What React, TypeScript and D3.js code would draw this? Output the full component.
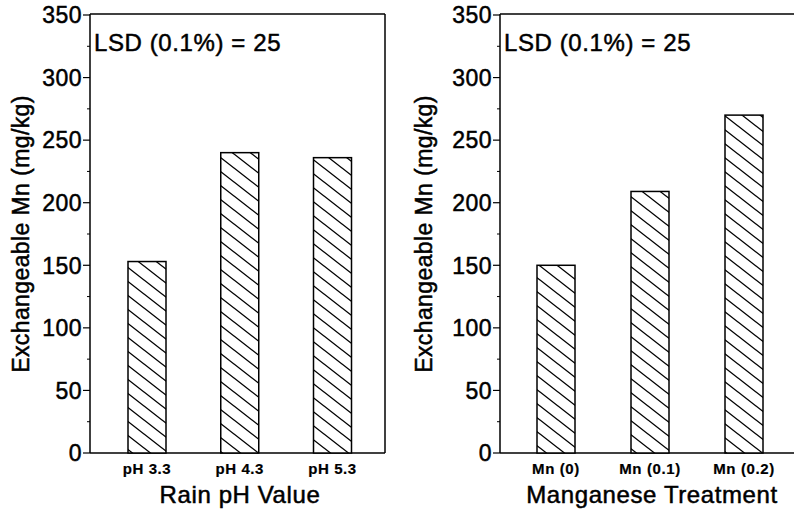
import React from "react";
import * as d3 from "d3";

const leftCategories = ["pH 3.3", "pH 4.3", "pH 5.3"];
const leftValues = [153, 240, 236];
const rightCategories = ["Mn (0)", "Mn (0.1)", "Mn (0.2)"];
const rightValues = [150, 209, 270];
const yTicks = [0, 50, 100, 150, 200, 250, 300, 350];
const minorTicks = [25, 75, 125, 175, 225, 275, 325];
const leftXTitle = "Rain pH Value";
const rightXTitle = "Manganese Treatment";
const yTitle = "Exchangeable Mn (mg/kg)";
const lsdText = "LSD (0.1%) = 25";

const FONT = "'Liberation Sans', Arial, Helvetica, sans-serif";

type PanelProps = {
  x0: number;
  x1: number;
  cats: string[];
  vals: number[];
  xTitle: string;
  xTitleCenter: number;
  barCenters: [number, number];
  rightBorder: boolean;
  yTitleOffset: number;
};

function Panel({ x0, x1, cats, vals, xTitle, xTitleCenter, barCenters, rightBorder, yTitleOffset }: PanelProps) {
  const yTop = 15;
  const yBot = 453;
  const y = d3.scaleLinear().domain([0, 350]).range([yBot, yTop]);
  const [c0, c2] = barCenters;
  const step = (c2 - c0) / 2;
  const x = d3
    .scaleBand<string>()
    .domain(cats)
    .range([c0 - step / 2, c2 + step / 2])
    .paddingInner(0.6)
    .paddingOuter(0.3);
  const bw = 38;
  const txt = { fontFamily: FONT, fill: "#000", stroke: "#000", strokeWidth: 0.5 };
  return (
    <g>
      <line x1={x0} x2={x0} y1={yTop - 1} y2={yBot} stroke="#000" strokeWidth={1.5} />
      <line x1={x0} x2={x1} y1={yTop - 1} y2={yTop - 1} stroke="#000" strokeWidth={1.5} />
      <line x1={x0} x2={x1} y1={yBot} y2={yBot} stroke="#000" strokeWidth={1.5} />
      {rightBorder && <line x1={x1} x2={x1} y1={yTop - 1} y2={yBot} stroke="#000" strokeWidth={1.5} />}
      {yTicks.map((t) => (
        <g key={t}>
          <line x1={x0 - 7} x2={x0} y1={y(t)} y2={y(t)} stroke="#000" strokeWidth={1.2} />
          <text x={x0 - 8} y={y(t)} dy="0.36em" textAnchor="end" fontSize={23} letterSpacing={0.5} {...txt}>
            {t}
          </text>
        </g>
      ))}
      {minorTicks.map((t) => (
        <line key={t} x1={x0 - 3} x2={x0} y1={y(t)} y2={y(t)} stroke="#000" strokeWidth={1} />
      ))}
      {cats.map((c, i) => {
        const cx = x(c)! + x.bandwidth() / 2;
        return (
          <g key={c}>
            <rect
              x={cx - bw / 2}
              y={y(vals[i])}
              width={bw}
              height={yBot - y(vals[i])}
              fill="url(#hatch)"
              stroke="#000"
              strokeWidth={1.5}
            />
            <text
              x={cx}
              y={yBot + 21}
              textAnchor="middle"
              fontWeight="bold"
              fontSize={15}
              letterSpacing={0.6}
              {...txt}
              strokeWidth={0.2}
            >
              {c}
            </text>
          </g>
        );
      })}
      <text x={xTitleCenter} y={yBot + 50} textAnchor="middle" fontSize={24} letterSpacing={0.6} {...txt}>
        {xTitle}
      </text>
      <text x={x0 + 4} y={yTop + 36} fontSize={24} letterSpacing={0.6} {...txt}>
        {lsdText}
      </text>
      <text
        transform={`translate(${x0 - yTitleOffset},${(yTop + yBot) / 2}) rotate(-90)`}
        textAnchor="middle"
        fontSize={23}
        letterSpacing={0.4}
        {...txt}
      >
        {yTitle}
      </text>
    </g>
  );
}

export default function App() {
  return (
    <svg width={794} height={512} style={{ position: "absolute", left: 0, top: 0, background: "#fff" }}>
      <defs>
        <pattern id="hatch" patternUnits="userSpaceOnUse" width={18} height={14}>
          <rect width={18} height={14} fill="#fff" />
          <path
            d="M0,0 L18,14 M-18,0 L0,14 M18,0 L36,14 M0,-14 L18,0 M0,14 L18,28"
            stroke="#000"
            strokeWidth={1.3}
          />
        </pattern>
      </defs>
      <rect width={794} height={512} fill="#fff" />
      <Panel
        x0={90}
        x1={385}
        cats={leftCategories}
        vals={leftValues}
        xTitle={leftXTitle}
        xTitleCenter={240}
        barCenters={[147, 332.5]}
        rightBorder={true}
        yTitleOffset={61}
      />
      <Panel
        x0={500}
        x1={800}
        cats={rightCategories}
        vals={rightValues}
        xTitle={rightXTitle}
        xTitleCenter={652}
        barCenters={[556, 744]}
        rightBorder={false}
        yTitleOffset={68}
      />
    </svg>
  );
}
